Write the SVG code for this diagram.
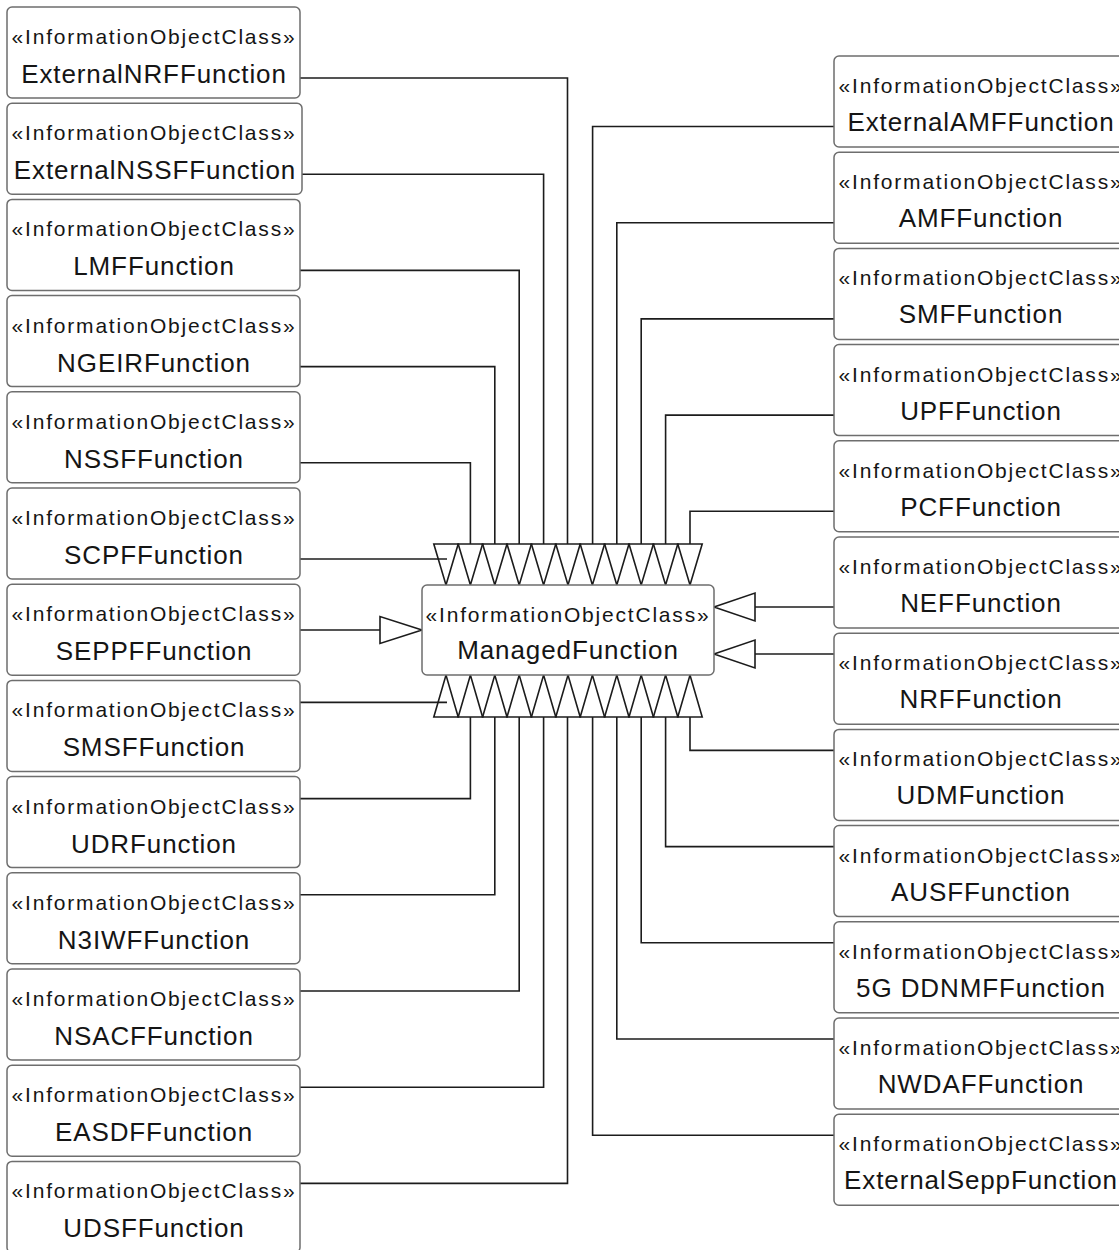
<svg xmlns="http://www.w3.org/2000/svg" width="1119" height="1250" viewBox="0 0 1119 1250">
<style>
  .box { fill: #ffffff; stroke: #6e6e6e; stroke-width: 1.5; }
  .st { font-family: "Liberation Sans", Arial, sans-serif; font-size: 21px; letter-spacing: 1.8px; fill: #151515; text-anchor: middle; }
  .nm { font-family: "Liberation Sans", Arial, sans-serif; font-size: 26px; letter-spacing: 0.9px; fill: #151515; text-anchor: middle; }
  .ln { fill: none; stroke: #1c1c1c; stroke-width: 1.6; }
  .tri { fill: none; stroke: #1c1c1c; stroke-width: 1.6; stroke-linejoin: miter; }
</style>
<rect width="1119" height="1250" fill="#ffffff"/>

<g id="connectors">
  <!-- top side lines -->
  <path class="ln" d="M300,559 H447"/>
  <path class="ln" d="M300,462.8 H470.4 V544"/>
  <path class="ln" d="M300,366.6 H494.8 V544"/>
  <path class="ln" d="M300,270.4 H519.2 V544"/>
  <path class="ln" d="M302,174.2 H543.6 V544"/>
  <path class="ln" d="M300,78 H567.5 V544"/>
  <path class="ln" d="M834,126.5 H592.6 V544"/>
  <path class="ln" d="M834,222.7 H616.8 V544"/>
  <path class="ln" d="M834,318.9 H641.2 V544"/>
  <path class="ln" d="M834,415.1 H665.6 V544"/>
  <path class="ln" d="M834,511.3 H690 V544"/>
  <!-- bottom side lines -->
  <path class="ln" d="M300,702.4 H447"/>
  <path class="ln" d="M300,798.6 H470.4 V717"/>
  <path class="ln" d="M300,894.8 H494.8 V717"/>
  <path class="ln" d="M300,991 H519.2 V717"/>
  <path class="ln" d="M300,1087.2 H543.6 V717"/>
  <path class="ln" d="M300,1183.4 H567.5 V717"/>
  <path class="ln" d="M834,1135.2 H592.6 V717"/>
  <path class="ln" d="M834,1039 H616.8 V717"/>
  <path class="ln" d="M834,942.8 H641.2 V717"/>
  <path class="ln" d="M834,846.6 H665.6 V717"/>
  <path class="ln" d="M834,750.4 H690 V717"/>
  <!-- side lines -->
  <path class="ln" d="M300,630 H380"/>
  <path class="ln" d="M834,607 H755"/>
  <path class="ln" d="M834,654 H755"/>
  <!-- generalization arrowheads, top row -->
  <path class="tri" d="M433.8,544 L458.2,544 L446,585 Z"/>
  <path class="tri" d="M458.2,544 L482.6,544 L470.4,585 Z"/>
  <path class="tri" d="M482.6,544 L507,544 L494.8,585 Z"/>
  <path class="tri" d="M507,544 L531.4,544 L519.2,585 Z"/>
  <path class="tri" d="M531.4,544 L555.8,544 L543.6,585 Z"/>
  <path class="tri" d="M555.8,544 L580.2,544 L568,585 Z"/>
  <path class="tri" d="M580.2,544 L604.6,544 L592.4,585 Z"/>
  <path class="tri" d="M604.6,544 L629,544 L616.8,585 Z"/>
  <path class="tri" d="M629,544 L653.4,544 L641.2,585 Z"/>
  <path class="tri" d="M653.4,544 L677.8,544 L665.6,585 Z"/>
  <path class="tri" d="M677.8,544 L702.2,544 L690,585 Z"/>
  <!-- generalization arrowheads, bottom row -->
  <path class="tri" d="M433.8,717 L458.2,717 L446,675 Z"/>
  <path class="tri" d="M458.2,717 L482.6,717 L470.4,675 Z"/>
  <path class="tri" d="M482.6,717 L507,717 L494.8,675 Z"/>
  <path class="tri" d="M507,717 L531.4,717 L519.2,675 Z"/>
  <path class="tri" d="M531.4,717 L555.8,717 L543.6,675 Z"/>
  <path class="tri" d="M555.8,717 L580.2,717 L568,675 Z"/>
  <path class="tri" d="M580.2,717 L604.6,717 L592.4,675 Z"/>
  <path class="tri" d="M604.6,717 L629,717 L616.8,675 Z"/>
  <path class="tri" d="M629,717 L653.4,717 L641.2,675 Z"/>
  <path class="tri" d="M653.4,717 L677.8,717 L665.6,675 Z"/>
  <path class="tri" d="M677.8,717 L702.2,717 L690,675 Z"/>
  <!-- side arrowheads -->
  <path class="tri" d="M380,616.5 L380,643.5 L422,630 Z"/>
  <path class="tri" d="M755,593 L755,621 L714,607 Z"/>
  <path class="tri" d="M755,640 L755,668 L714,654 Z"/>
</g>

<g id="ManagedFunction">
  <rect class="box" x="422" y="585" width="292" height="90" rx="5"/>
  <text class="st" x="568" y="622">«InformationObjectClass»</text>
  <text class="nm" x="568" y="659">ManagedFunction</text>
</g>

<!-- left column -->
<g id="ExternalNRFFunction">
  <rect class="box" x="7" y="7" width="293" height="91" rx="5"/>
  <text class="st" x="154" y="44">«InformationObjectClass»</text>
  <text class="nm" x="154" y="83">ExternalNRFFunction</text>
</g>
<g id="ExternalNSSFFunction">
  <rect class="box" x="7" y="103.2" width="295" height="91" rx="5"/>
  <text class="st" x="154" y="140.2">«InformationObjectClass»</text>
  <text class="nm" x="155" y="179.2">ExternalNSSFFunction</text>
</g>
<g id="LMFFunction">
  <rect class="box" x="7" y="199.4" width="293" height="91" rx="5"/>
  <text class="st" x="154" y="236.4">«InformationObjectClass»</text>
  <text class="nm" x="154" y="275.4">LMFFunction</text>
</g>
<g id="NGEIRFunction">
  <rect class="box" x="7" y="295.6" width="293" height="91" rx="5"/>
  <text class="st" x="154" y="332.6">«InformationObjectClass»</text>
  <text class="nm" x="154" y="371.6">NGEIRFunction</text>
</g>
<g id="NSSFFunction">
  <rect class="box" x="7" y="391.8" width="293" height="91" rx="5"/>
  <text class="st" x="154" y="428.8">«InformationObjectClass»</text>
  <text class="nm" x="154" y="467.8">NSSFFunction</text>
</g>
<g id="SCPFFunction">
  <rect class="box" x="7" y="488" width="293" height="91" rx="5"/>
  <text class="st" x="154" y="525">«InformationObjectClass»</text>
  <text class="nm" x="154" y="564">SCPFFunction</text>
</g>
<g id="SEPPFFunction">
  <rect class="box" x="7" y="584.2" width="293" height="91" rx="5"/>
  <text class="st" x="154" y="621.2">«InformationObjectClass»</text>
  <text class="nm" x="154" y="660.2">SEPPFFunction</text>
</g>
<g id="SMSFFunction">
  <rect class="box" x="7" y="680.4" width="293" height="91" rx="5"/>
  <text class="st" x="154" y="717.4">«InformationObjectClass»</text>
  <text class="nm" x="154" y="756.4">SMSFFunction</text>
</g>
<g id="UDRFunction">
  <rect class="box" x="7" y="776.6" width="293" height="91" rx="5"/>
  <text class="st" x="154" y="813.6">«InformationObjectClass»</text>
  <text class="nm" x="154" y="852.6">UDRFunction</text>
</g>
<g id="N3IWFFunction">
  <rect class="box" x="7" y="872.8" width="293" height="91" rx="5"/>
  <text class="st" x="154" y="909.8">«InformationObjectClass»</text>
  <text class="nm" x="154" y="948.8">N3IWFFunction</text>
</g>
<g id="NSACFFunction">
  <rect class="box" x="7" y="969" width="293" height="91" rx="5"/>
  <text class="st" x="154" y="1006">«InformationObjectClass»</text>
  <text class="nm" x="154" y="1045">NSACFFunction</text>
</g>
<g id="EASDFFunction">
  <rect class="box" x="7" y="1065.2" width="293" height="91" rx="5"/>
  <text class="st" x="154" y="1102.2">«InformationObjectClass»</text>
  <text class="nm" x="154" y="1141.2">EASDFFunction</text>
</g>
<g id="UDSFFunction">
  <rect class="box" x="7" y="1161.4" width="293" height="91" rx="5"/>
  <text class="st" x="154" y="1198.4">«InformationObjectClass»</text>
  <text class="nm" x="154" y="1237.4">UDSFFunction</text>
</g>

<!-- right column -->
<g id="ExternalAMFFunction">
  <rect class="box" x="834" y="56" width="293" height="91" rx="5"/>
  <text class="st" x="981" y="93">«InformationObjectClass»</text>
  <text class="nm" x="981" y="131">ExternalAMFFunction</text>
</g>
<g id="AMFFunction">
  <rect class="box" x="834" y="152.2" width="293" height="91" rx="5"/>
  <text class="st" x="981" y="189.2">«InformationObjectClass»</text>
  <text class="nm" x="981" y="227.2">AMFFunction</text>
</g>
<g id="SMFFunction">
  <rect class="box" x="834" y="248.4" width="293" height="91" rx="5"/>
  <text class="st" x="981" y="285.4">«InformationObjectClass»</text>
  <text class="nm" x="981" y="323.4">SMFFunction</text>
</g>
<g id="UPFFunction">
  <rect class="box" x="834" y="344.6" width="293" height="91" rx="5"/>
  <text class="st" x="981" y="381.6">«InformationObjectClass»</text>
  <text class="nm" x="981" y="419.6">UPFFunction</text>
</g>
<g id="PCFFunction">
  <rect class="box" x="834" y="440.8" width="293" height="91" rx="5"/>
  <text class="st" x="981" y="477.8">«InformationObjectClass»</text>
  <text class="nm" x="981" y="515.8">PCFFunction</text>
</g>
<g id="NEFFunction">
  <rect class="box" x="834" y="537" width="293" height="91" rx="5"/>
  <text class="st" x="981" y="574">«InformationObjectClass»</text>
  <text class="nm" x="981" y="612">NEFFunction</text>
</g>
<g id="NRFFunction">
  <rect class="box" x="834" y="633.2" width="293" height="91" rx="5"/>
  <text class="st" x="981" y="670.2">«InformationObjectClass»</text>
  <text class="nm" x="981" y="708.2">NRFFunction</text>
</g>
<g id="UDMFunction">
  <rect class="box" x="834" y="729.4" width="293" height="91" rx="5"/>
  <text class="st" x="981" y="766.4">«InformationObjectClass»</text>
  <text class="nm" x="981" y="804.4">UDMFunction</text>
</g>
<g id="AUSFFunction">
  <rect class="box" x="834" y="825.6" width="293" height="91" rx="5"/>
  <text class="st" x="981" y="862.6">«InformationObjectClass»</text>
  <text class="nm" x="981" y="900.6">AUSFFunction</text>
</g>
<g id="DDNMFFunction">
  <rect class="box" x="834" y="921.8" width="293" height="91" rx="5"/>
  <text class="st" x="981" y="958.8">«InformationObjectClass»</text>
  <text class="nm" x="981" y="996.8">5G DDNMFFunction</text>
</g>
<g id="NWDAFFunction">
  <rect class="box" x="834" y="1018" width="293" height="91" rx="5"/>
  <text class="st" x="981" y="1055">«InformationObjectClass»</text>
  <text class="nm" x="981" y="1093">NWDAFFunction</text>
</g>
<g id="ExternalSeppFunction">
  <rect class="box" x="834" y="1114.2" width="293" height="91" rx="5"/>
  <text class="st" x="981" y="1151.2">«InformationObjectClass»</text>
  <text class="nm" x="981" y="1189.2">ExternalSeppFunction</text>
</g>
</svg>
